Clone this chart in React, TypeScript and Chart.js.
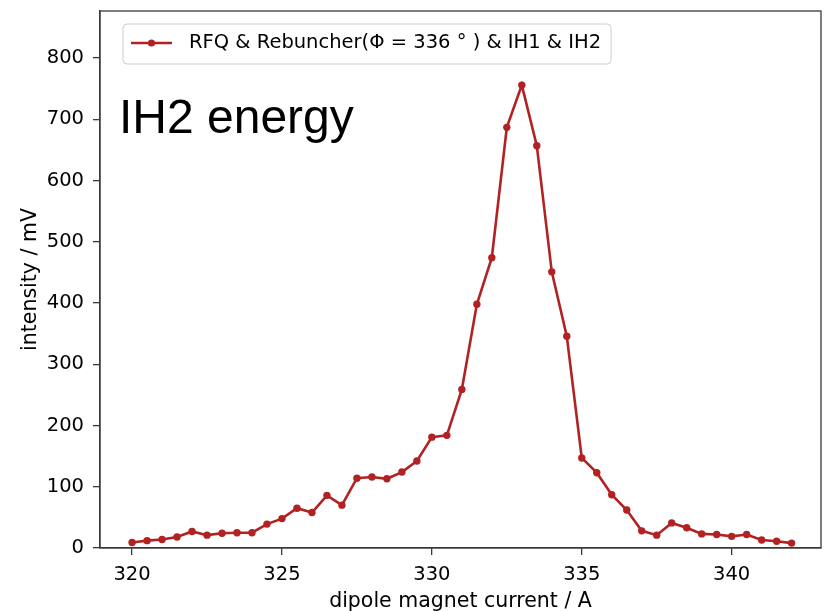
import React, { useEffect, useRef } from "react";
import { Chart, registerables } from "chart.js";

Chart.register(...registerables);

// dipole magnet current (A)
const currents = [
  320, 320.5, 321, 321.5, 322, 322.5, 323, 323.5, 324, 324.5,
  325, 325.5, 326, 326.5, 327, 327.5, 328, 328.5, 329, 329.5,
  330, 330.5, 331, 331.5, 332, 332.5, 333, 333.5, 334, 334.5,
  335, 335.5, 336, 336.5, 337, 337.5, 338, 338.5, 339, 339.5,
  340, 340.5, 341, 341.5, 342,
];
// intensity (mV)
const intensity = [
  9, 12, 14, 18, 27, 21, 24, 25, 25, 39,
  48, 65, 58, 86, 70, 114, 116, 113, 124, 142,
  181, 184, 259, 398, 474, 687, 756, 657, 451, 346,
  147, 123, 87, 62, 28, 21, 41, 33, 23, 22,
  19, 22, 13, 11, 8,
];
const xTicks = [320, 325, 330, 335, 340];
const yTicks = [0, 100, 200, 300, 400, 500, 600, 700, 800];
const seriesLabel = "RFQ & Rebuncher(Φ = 336 ° ) & IH1 & IH2";
const annotationText = "IH2 energy";
const xTitle = "dipole magnet current / A";
const yTitle = "intensity / mV";

const LINE_COLOR = "#b22222";
const SPINE = "#3a3a3a";
const TICK_FONT = { family: "'DejaVu Sans'", size: 19.5 };
const TITLE_FONT = { family: "'DejaVu Sans'", size: 20.5 };

export default function App() {
  const ref = useRef<HTMLCanvasElement | null>(null);

  useEffect(() => {
    if (!ref.current) return;
    const framePlugin = {
      id: "frameAndLegend",
      afterDraw(chart: any) {
        const { ctx, chartArea } = chart;
        const { left, right, top, bottom } = chartArea;
        ctx.save();
        // spines
        ctx.strokeStyle = SPINE;
        ctx.lineWidth = 1.3;
        ctx.strokeRect(left, top, right - left, bottom - top);

        // annotation text
        ctx.fillStyle = "#000";
        ctx.font = "48px 'Liberation Sans'";
        ctx.textBaseline = "alphabetic";
        ctx.textAlign = "left";
        ctx.fillText(annotationText, left + 19, 133);

        // legend box
        ctx.font = "19.5px 'DejaVu Sans'";
        const tw = ctx.measureText(seriesLabel).width;
        const bx = left + 23;
        const by = top + 13;
        const bw = 66 + tw + 10;
        const bh = 40;
        const r = 4;
        ctx.beginPath();
        ctx.moveTo(bx + r, by);
        ctx.lineTo(bx + bw - r, by);
        ctx.quadraticCurveTo(bx + bw, by, bx + bw, by + r);
        ctx.lineTo(bx + bw, by + bh - r);
        ctx.quadraticCurveTo(bx + bw, by + bh, bx + bw - r, by + bh);
        ctx.lineTo(bx + r, by + bh);
        ctx.quadraticCurveTo(bx, by + bh, bx, by + bh - r);
        ctx.lineTo(bx, by + r);
        ctx.quadraticCurveTo(bx, by, bx + r, by);
        ctx.closePath();
        ctx.fillStyle = "rgba(255,255,255,0.85)";
        ctx.fill();
        ctx.strokeStyle = "#cccccc";
        ctx.lineWidth = 1;
        ctx.stroke();

        const ly = by + 19;
        ctx.strokeStyle = LINE_COLOR;
        ctx.lineWidth = 2.6;
        ctx.beginPath();
        ctx.moveTo(bx + 8, ly);
        ctx.lineTo(bx + 49, ly);
        ctx.stroke();
        ctx.fillStyle = LINE_COLOR;
        ctx.beginPath();
        ctx.arc(bx + 28.5, ly, 3.6, 0, Math.PI * 2);
        ctx.fill();

        ctx.fillStyle = "#000";
        ctx.textBaseline = "middle";
        ctx.fillText(seriesLabel, bx + 66, ly);
        ctx.restore();
      },
    };

    const chart = new Chart(ref.current, {
      type: "line",
      data: {
        datasets: [
          {
            label: seriesLabel,
            data: currents.map((x, i) => ({ x, y: intensity[i] })),
            borderColor: LINE_COLOR,
            backgroundColor: LINE_COLOR,
            borderWidth: 2.6,
            pointRadius: 3.7,
            pointBorderWidth: 0,
            pointBackgroundColor: LINE_COLOR,
            tension: 0,
          },
        ],
      },
      options: {
        responsive: false,
        animation: false,
        events: [],
        layout: { padding: { top: 11, right: 2, left: 0, bottom: 0 } },
        plugins: {
          legend: { display: false },
          tooltip: { enabled: false },
        },
        scales: {
          x: {
            type: "linear",
            min: 318.93,
            max: 342.98,
            afterBuildTicks: (s: any) => {
              s.ticks = xTicks.map((v) => ({ value: v }));
            },
            afterFit: (s: any) => {
              s.height = 63;
              s.paddingLeft = 0;
              s.paddingRight = 0;
            },
            grid: {
              drawOnChartArea: false,
              drawTicks: true,
              tickLength: 7,
              color: SPINE,
              lineWidth: 1.3,
            },
            border: { display: true, color: SPINE, width: 1.3 },
            ticks: {
              font: TICK_FONT,
              color: "#000",
              padding: 8,
              maxRotation: 0,
              callback: (v: any) => String(v),
            },
            title: {
              display: true,
              text: xTitle,
              font: { ...TITLE_FONT, lineHeight: 0.9 },
              color: "#000",
              padding: { top: 0, bottom: 0 },
            },
          },
          y: {
            type: "linear",
            min: 0,
            max: 877,
            afterBuildTicks: (s: any) => {
              s.ticks = yTicks.map((v) => ({ value: v }));
            },
            afterFit: (s: any) => {
              s.width = 100;
              s.paddingTop = 0;
              s.paddingBottom = 0;
            },
            grid: {
              drawOnChartArea: false,
              drawTicks: true,
              tickLength: 7,
              color: SPINE,
              lineWidth: 1.3,
            },
            border: { display: true, color: SPINE, width: 1.3 },
            ticks: {
              font: TICK_FONT,
              color: "#000",
              padding: 9,
              callback: (v: any) => String(v),
            },
            title: {
              display: true,
              text: yTitle,
              font: TITLE_FONT,
              color: "#000",
              padding: { top: 18, bottom: 0 },
            },
          },
        },
      },
      plugins: [framePlugin],
    });
    return () => chart.destroy();
  }, []);

  return (
    <div style={{ position: "absolute", left: 0, top: 0, width: 825, height: 611, background: "#fff" }}>
      <canvas ref={ref} width={825} height={611} style={{ display: "block" }} />
    </div>
  );
}
